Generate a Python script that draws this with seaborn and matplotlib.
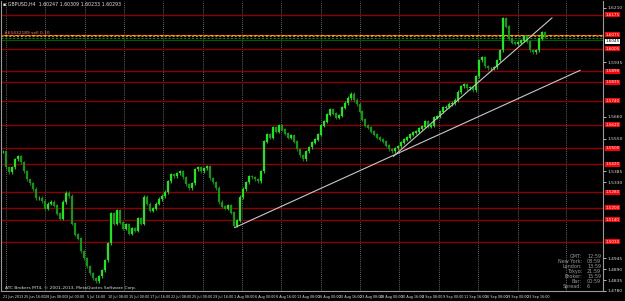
import matplotlib
matplotlib.use("Agg")
import matplotlib.pyplot as plt
import matplotlib.transforms as mtransforms
import seaborn as sns
import pandas as pd
import numpy as np

# ---------------- data ----------------
close_prices = [
    1.5485, 1.5405, 1.5380, 1.5405, 1.5445, 1.5460, 1.5430, 1.5385, 1.5345, 1.5325,
    1.5295, 1.5250, 1.5250, 1.5235, 1.5195, 1.5220, 1.5230, 1.5210, 1.5170, 1.5145,
    1.5230, 1.5275, 1.5260, 1.5120, 1.5065, 1.5045, 1.4980, 1.4945, 1.4905, 1.4870,
    1.4845, 1.4830, 1.4855, 1.4885, 1.4935, 1.5020, 1.5170, 1.5120, 1.5185, 1.5125,
    1.5095, 1.5115, 1.5070, 1.5095, 1.5085, 1.5145, 1.5120, 1.5255, 1.5220, 1.5185,
    1.5195, 1.5220, 1.5245, 1.5260, 1.5280, 1.5335, 1.5370, 1.5360, 1.5375, 1.5385,
    1.5355, 1.5320, 1.5300, 1.5325, 1.5395, 1.5405, 1.5385, 1.5400, 1.5410, 1.5350,
    1.5330, 1.5300, 1.5230, 1.5205, 1.5195, 1.5210, 1.5175, 1.5110, 1.5135, 1.5255,
    1.5295, 1.5330, 1.5360, 1.5355, 1.5345, 1.5335, 1.5385, 1.5535, 1.5570, 1.5555,
    1.5605, 1.5585, 1.5615, 1.5595, 1.5575, 1.5555, 1.5565, 1.5535, 1.5495, 1.5465,
    1.5445, 1.5485, 1.5505, 1.5530, 1.5545, 1.5570, 1.5615, 1.5635, 1.5670, 1.5695,
    1.5675, 1.5655, 1.5665, 1.5705, 1.5730, 1.5755, 1.5775, 1.5745, 1.5725, 1.5685,
    1.5645, 1.5615, 1.5605, 1.5585, 1.5570, 1.5555, 1.5545, 1.5535, 1.5515, 1.5495,
    1.5485, 1.5500, 1.5510, 1.5530, 1.5545, 1.5555, 1.5570, 1.5580, 1.5585, 1.5600,
    1.5610, 1.5635, 1.5610, 1.5615, 1.5655, 1.5660, 1.5685, 1.5705, 1.5710, 1.5725,
    1.5730, 1.5745, 1.5785, 1.5815, 1.5825, 1.5805, 1.5810, 1.5795, 1.5865, 1.5945,
    1.5960, 1.5915, 1.5905, 1.5905, 1.5910, 1.5945, 1.5995, 1.6155, 1.6115, 1.6055,
    1.6035, 1.6030, 1.6035, 1.6045, 1.6065, 1.6040, 1.5995, 1.5985, 1.5995, 1.6055,
    1.6085, 1.6065,
]

# support / resistance levels (dark red horizontal lines)
sr_levels = [1.6175, 1.6005, 1.5890, 1.5835, 1.5740, 1.5620, 1.5500, 1.5420,
             1.5280, 1.5200, 1.5140, 1.5030]

# order lines
order_levels = [1.6075, 1.6067, 1.6058, 1.6050]
bid_price = 1.6045

# trend lines (bar index, price)
trend1_x = [77.3, 192.7]
trend1_y = [1.5100, 1.5895]
trend2_x = [130.3, 183.3]
trend2_y = [1.5460, 1.6160]

# vertical grid positions (bar index)
grid_x = [1.0, 14.0, 27.2, 40.3, 53.3, 66.7, 79.7, 92.8, 106.0, 119.2, 132.3,
          145.7, 158.7, 172.0, 188.0]

time_labels = ["21 Jun 2013", "25 Jun 16:00", "28 Jun 08:00", "3 Jul 00:00",
               "5 Jul 16:00", "10 Jul 08:00", "15 Jul 00:00", "17 Jul 16:00",
               "22 Jul 08:00", "25 Jul 00:00", "29 Jul 16:00", "1 Aug 08:00",
               "6 Aug 00:00", "8 Aug 16:00", "13 Aug 08:00", "16 Aug 00:00",
               "20 Aug 16:00", "23 Aug 08:00", "28 Aug 00:00", "30 Aug 16:00",
               "4 Sep 08:00", "9 Sep 00:00", "11 Sep 16:00", "16 Sep 08:00",
               "19 Sep 00:00", "23 Sep 16:00"]

info_names = ["GMT:", "New York:", "London:", "Tokyo:", "Broker:", "Bar:", "Spread:"]
info_values = ["12:59", "08:59", "13:59", "21:59", "15:59", "00:59", "6"]

header = "GBPUSD,H4  1.60247 1.60309 1.60233 1.60293"
copyright_txt = "ATC Brokers MT4, \u00a9 2001-2013, MetaQuotes Software Corp."
order_txt = "#65432189 sell 0.10"

# ---------------- style ----------------
sns.set_theme(style="dark", rc={"axes.facecolor": "black", "figure.facecolor": "black"})
plt.rcParams["font.family"] = ["DejaVu Sans"]

W, H = 625, 301
fig = plt.figure(figsize=(W / 100, H / 100), dpi=100)
ax = fig.add_axes([1 / W, 10 / H, 602 / W, 290 / H])
ax.set_facecolor("black")

y_top, y_bot = 1.6245, 1.6245 - 291 / 2000
ax.set_ylim(y_bot, y_top)
ax.set_xlim(-0.7, 200.3)

# vertical dotted grid
for gx in grid_x:
    ax.axvline(gx, color="#8a8a8a", lw=0.6, ls=(0, (1, 1.5)), zorder=1)

# S/R lines
for lv in sr_levels:
    ax.axhline(lv, color="#8b0000", lw=1.0, zorder=2)

# order lines
ax.axhline(order_levels[0], color="#ff3000", lw=0.8, ls=(0, (3, 2)), zorder=2)
ax.axhline(order_levels[0], color="#e0b000", lw=0.8, ls=(2.5, (3, 2)), zorder=2)
ax.axhline(order_levels[1], color="#c8a000", lw=0.7, ls=(0, (2, 2)), zorder=2)
ax.axhline(order_levels[2], color="#00a000", lw=0.7, ls=(0, (2, 2)), zorder=2)
ax.axhline(order_levels[3], color="#005a00", lw=0.8, zorder=2)

# candles
df = pd.DataFrame({"idx": np.arange(len(close_prices)), "close": close_prices})
df["open"] = df["close"].shift(1).fillna(df["close"])
wick = 0.0008
for _, r in df.iterrows():
    up = r["close"] >= r["open"]
    col = "#00ff00" if up else "#00a800"
    lo, hi = min(r["open"], r["close"]), max(r["open"], r["close"])
    ax.vlines(r["idx"], lo - wick, hi + wick, color=col, lw=0.6, zorder=4)
    ax.vlines(r["idx"], lo, hi + 0.0002, color=col, lw=1.4, zorder=4)

# trend lines via seaborn
tl = pd.DataFrame({"x": trend1_x + trend2_x, "y": trend1_y + trend2_y,
                   "line": ["a", "a", "b", "b"]})
sns.lineplot(data=tl, x="x", y="y", units="line", estimator=None, color="#c8c8c8",
             lw=0.8, ax=ax, zorder=5, legend=False)

# axes cosmetics
ax.spines["top"].set_visible(False)
for s in ["bottom", "right", "left"]:
    ax.spines[s].set_visible(True)
    ax.spines[s].set_color("#9a9a9a")
    ax.spines[s].set_linewidth(0.8)

# right price scale: hide plain ticks that would collide with marked boxes
box_levels = sr_levels + [order_levels[0], bid_price]
ax.yaxis.tick_right()
yticks = [1.4780 + 0.0055 * k for k in range(27)]
yticks = [v for v in yticks if min(abs(v - b) for b in box_levels) > 0.0032]
ax.set_yticks(yticks)
ax.set_yticklabels([f"{v:.4f}" for v in yticks])
ax.tick_params(axis="y", colors="#ffffff", labelsize=3.2, length=2, width=0.5,
               pad=1.5, labelcolor="#e0e0e0")
ax.set_ylabel("")

xt = [7 * k for k in range(len(time_labels))]
ax.set_xticks(xt)
ax.set_xticklabels(time_labels)
for t in ax.get_xticklabels():
    t.set_ha("left")
ax.tick_params(axis="x", colors="#ffffff", labelsize=2.4, length=2, width=0.5,
               pad=1.2, labelcolor="#e0e0e0")
ax.set_xlabel("")
ax.grid(False)

# price label boxes on the right axis
trans = mtransforms.blended_transform_factory(ax.transAxes, ax.transData)
for lv in sr_levels + [order_levels[0]]:
    ax.text(1.004, lv, f"{lv:.4f}", transform=trans, fontsize=3.0, color="white",
            va="center", ha="left", clip_on=False, zorder=6,
            bbox=dict(boxstyle="square,pad=0.12", fc="#ff0000", ec="none"))
ax.text(1.004, bid_price - 0.0003, f"{bid_price:.4f}", transform=trans, fontsize=3.0,
        color="black", va="center", ha="left", clip_on=False, zorder=7,
        bbox=dict(boxstyle="square,pad=0.12", fc="#ffffff", ec="none"))

# texts
fig.text(3 / W, 1 - 4 / H, "\u25aa " + header, fontsize=3.4, color="#e0e0e0",
         va="center", ha="left")
fig.text(4 / W, 1 - 33 / H, order_txt, fontsize=3.2, color="#ff8080",
         va="center", ha="left")
fig.text(5 / W, 1 - 288 / H, copyright_txt, fontsize=3.2, color="#e0e0e0",
         va="center", ha="left")
for k, (nm, vl) in enumerate(zip(info_names, info_values)):
    yy = 1 - (257 + 4.9 * k) / H
    fig.text(582 / W, yy, nm, fontsize=3.5, color="#9a9a9a", va="center", ha="right")
    fig.text(587 / W, yy, vl, fontsize=3.5, color="#9a9a9a", va="center", ha="left")

fig.savefig("out.png", dpi=100, facecolor="black")
